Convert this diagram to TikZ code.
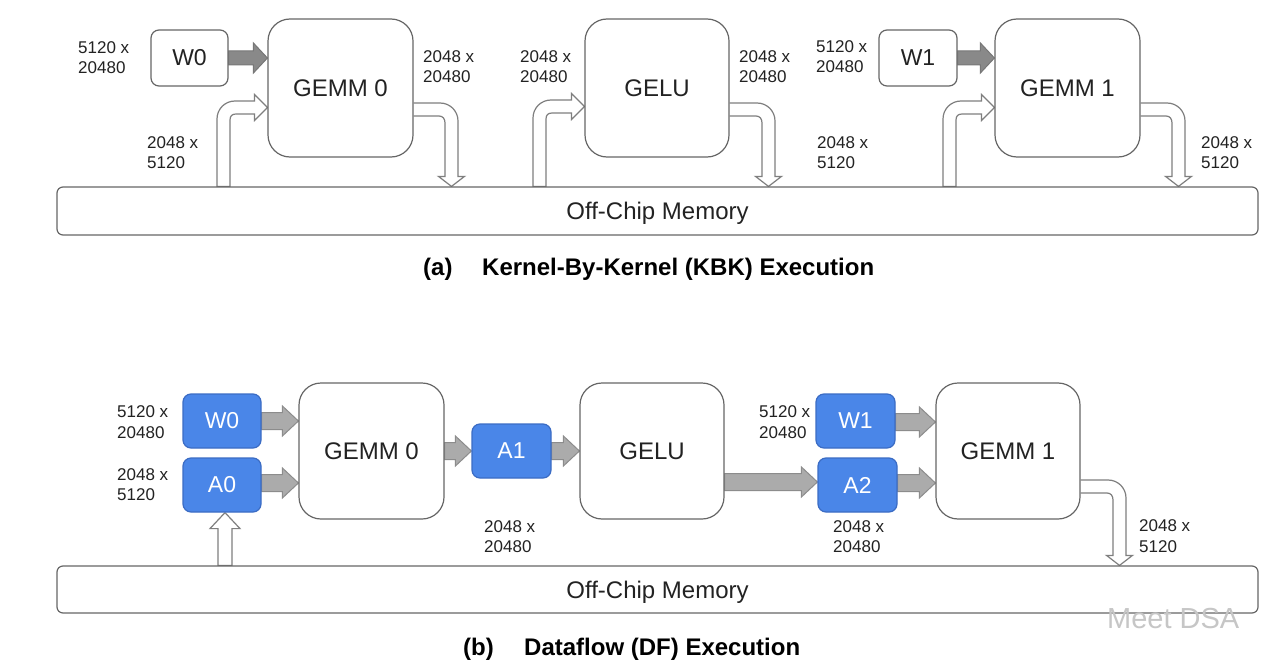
\documentclass[tikz,border=0pt]{standalone}
\usepackage{fontspec}
\setmainfont{Liberation Sans}
\usetikzlibrary{calc}
\pgfdeclarelayer{bg}
\pgfdeclarelayer{paper}
\pgfsetlayers{paper,bg,main}
\definecolor{boxline}{HTML}{666666}
\definecolor{blueA}{HTML}{4A86E8}
\definecolor{blueline}{HTML}{3B6CC4}
\definecolor{garrfill}{HTML}{ABABAB}
\definecolor{garrline}{HTML}{8C8C8C}
\definecolor{darrfill}{HTML}{898989}
\definecolor{darrline}{HTML}{777777}
\definecolor{hollowline}{HTML}{7F7F7F}
\definecolor{txt}{HTML}{222222}
\tikzset{
 bigbox/.style={draw=boxline, line width=1.2pt, rounded corners=22pt, fill=white,
   minimum width=145pt, minimum height=138pt, inner sep=0pt,
   font=\fontsize{24}{28}\selectfont, text=txt},
 smallbox/.style={draw=boxline, line width=1.2pt, rounded corners=8pt, fill=white,
   minimum width=77pt, minimum height=56pt, inner sep=0pt,
   font=\fontsize{23}{27}\selectfont, text=txt},
 bluebox/.style={draw=blueline, fill=blueA, line width=1.2pt, rounded corners=8pt,
   minimum width=78pt, minimum height=54pt, inner sep=0pt,
   font=\fontsize{23}{27}\selectfont, text=white},
 membox/.style={draw=boxline, line width=1.2pt, rounded corners=6pt, fill=white,
   minimum width=1201pt, inner sep=0pt, text depth=0pt,
   font=\fontsize{24}{28}\selectfont, text=txt},
 dimlbl/.style={anchor=base west, inner sep=0pt, font=\fontsize{17}{20}\selectfont, text=txt},
 captxt/.style={anchor=base west, inner sep=0pt, font=\bfseries\fontsize{24}{28}\selectfont, text=black},
 hollow/.style={draw=hollowline, line width=1.2pt, fill=white, line join=miter},
 garr/.style={draw=garrline, fill=garrfill, line width=1pt},
 darr/.style={draw=darrline, fill=darrfill, line width=1pt},
}
% horizontal block arrow: style, from node, to node, y, shaft half height, head length
\newcommand\blockarrow[6]{%
 \draw[#1] let \p1=(#2.east), \p2=(#3.west), \p3=(0,#4) in
  (\x1,\y3+#5pt) -- (\x2-#6pt,\y3+#5pt) -- (\x2-#6pt,\y3+15pt) -- (\x2,\y3)
  -- (\x2-#6pt,\y3-15pt) -- (\x2-#6pt,\y3-#5pt) -- (\x1,\y3-#5pt) -- cycle;}
% hollow bent arrow from memory up, then right into a node
\newcommand\bentup[4]{%
 \draw[hollow] let \p1=(#1.west), \p2=(#2.north), \p3=(#3,#4) in
  (\x3,\y2) -- (\x3,\y3-18pt) .. controls (\x3,\y3-8pt) and (\x3+8pt,\y3) .. (\x3+18pt,\y3)
  -- (\x1-13pt,\y3) -- (\x1-13pt,\y3+6.5pt) -- (\x1,\y3-6.5pt) -- (\x1-13pt,\y3-19.5pt)
  -- (\x1-13pt,\y3-13pt) -- (\x3+19pt,\y3-13pt) .. controls (\x3+15pt,\y3-13pt) and (\x3+13pt,\y3-15pt) .. (\x3+13pt,\y3-19pt)
  -- (\x3+13pt,\y2) -- cycle;}
% hollow bent arrow out of a node to the right, then down into memory
\newcommand\bentdown[4]{%
 \draw[hollow] let \p1=(#1.east), \p2=(#2.north), \p3=(#3,#4) in
  (\x1,\y3) -- (\x3-5pt,\y3) .. controls (\x3+5pt,\y3) and (\x3+13pt,\y3-8pt) .. (\x3+13pt,\y3-18pt)
  -- (\x3+13pt,\y2+10pt) -- (\x3+19.5pt,\y2+10pt) -- (\x3+6.5pt,\y2) -- (\x3-6.5pt,\y2+10pt)
  -- (\x3,\y2+10pt) -- (\x3,\y3-20pt) .. controls (\x3,\y3-16pt) and (\x3-2pt,\y3-13pt) .. (\x3-6pt,\y3-13pt)
  -- (\x1,\y3-13pt);}
\begin{document}
\begin{tikzpicture}[x=1pt,y=-1pt]
\useasboundingbox (0,0) rectangle (1280,669);
\begin{pgfonlayer}{paper}
\fill[white] (0,0) rectangle (1280,669);
\end{pgfonlayer}

% ---------------- (a) Kernel-By-Kernel ----------------
\node[membox, minimum height=48pt] (mema) at (657.5,211) {Off-Chip Memory};
\node[smallbox] (w0a) at (189.5,58) {W0};
\node[bigbox] (g0a) at (340.5,88) {GEMM 0};
\node[bigbox, minimum width=144pt] (gelua) at (657,88) {GELU};
\node[smallbox, minimum width=78pt] (w1a) at (918,58) {W1};
\node[bigbox] (g1a) at (1067.5,88) {GEMM 1};

\begin{pgfonlayer}{bg}
\blockarrow{darr}{w0a}{g0a}{58}{7}{14}
\blockarrow{darr}{w1a}{g1a}{58}{7}{14}
\bentup{g0a}{mema}{217}{101}
\bentup{gelua}{mema}{533}{100}
\bentup{g1a}{mema}{943}{101}
\bentdown{g0a}{mema}{445}{103}
\bentdown{gelua}{mema}{762}{103}
\bentdown{g1a}{mema}{1172}{103}
\end{pgfonlayer}

\node[dimlbl] (la1) at (78,54) {5120 x};
\node[dimlbl] (la2) at (78,74) {20480};
\node[dimlbl] (la3) at (147,148) {2048 x};
\node[dimlbl] (la4) at (147,168) {5120};
\node[dimlbl] (la5) at (423,63) {2048 x};
\node[dimlbl] (la6) at (423,83) {20480};
\node[dimlbl] (la7) at (520,63) {2048 x};
\node[dimlbl] (la8) at (520,83) {20480};
\node[dimlbl] (la9) at (739,63) {2048 x};
\node[dimlbl] (la10) at (739,83) {20480};
\node[dimlbl] (la11) at (817,148) {2048 x};
\node[dimlbl] (la12) at (817,168) {5120};
\node[dimlbl] (la13) at (816,53) {5120 x};
\node[dimlbl] (la14) at (816,73) {20480};
\node[dimlbl] (la15) at (1201,148) {2048 x};
\node[dimlbl] (la16) at (1201,168) {5120};

\node[captxt] (capa1) at (423,275) {(a)};
\node[captxt] (capa2) at (482,275) {Kernel-By-Kernel (KBK) Execution};

% ---------------- (b) Dataflow ----------------
\node[membox, minimum height=47pt] (memb) at (657.5,589.5) {Off-Chip Memory};
\node[bluebox] (w0b) at (222,421) {W0};
\node[bluebox] (a0b) at (222,485) {A0};
\node[bigbox, minimum height=136pt] (g0b) at (371.5,451) {GEMM 0};
\node[bluebox, minimum width=79pt] (a1b) at (511.5,451) {A1};
\node[bigbox, minimum width=144pt, minimum height=136pt] (gelub) at (652,451) {GELU};
\node[bluebox, minimum width=79pt] (w1b) at (855.5,421) {W1};
\node[bluebox, minimum width=79pt] (a2b) at (857.5,485) {A2};
\node[bigbox, minimum width=144pt, minimum height=136pt] (g1b) at (1008,451) {GEMM 1};

\begin{pgfonlayer}{bg}
\blockarrow{garr}{w0b}{g0b}{421}{8.5}{16}
\blockarrow{garr}{a0b}{g0b}{483}{8.5}{16}
\blockarrow{garr}{g0b}{a1b}{451}{8.5}{16}
\blockarrow{garr}{a1b}{gelub}{451}{8.5}{16}
\blockarrow{garr}{gelub}{a2b}{482}{8.5}{16}
\blockarrow{garr}{w1b}{g1b}{422}{8.5}{16}
\blockarrow{garr}{a2b}{g1b}{483}{8.5}{16}
\bentdown{g1b}{memb}{1113}{480}
\draw[hollow] let \p1=([xshift=3pt]a0b.south), \p2=(memb.north) in
  (\x1-7pt,\y2) -- (\x1-7pt,\y1-16pt) -- (\x1-15pt,\y1-16pt) -- (\x1,\y1)
  -- (\x1+15pt,\y1-16pt) -- (\x1+7pt,\y1-16pt) -- (\x1+7pt,\y2) -- cycle;
\end{pgfonlayer}

\node[dimlbl] (lb1) at (117,417) {5120 x};
\node[dimlbl] (lb2) at (117,438) {20480};
\node[dimlbl] (lb3) at (117,480) {2048 x};
\node[dimlbl] (lb4) at (117,500) {5120};
\node[dimlbl] (lb5) at (484,532) {2048 x};
\node[dimlbl] (lb6) at (484,552) {20480};
\node[dimlbl] (lb7) at (759,417) {5120 x};
\node[dimlbl] (lb8) at (759,438) {20480};
\node[dimlbl] (lb9) at (833,532) {2048 x};
\node[dimlbl] (lb10) at (833,552) {20480};
\node[dimlbl] (lb11) at (1139,531) {2048 x};
\node[dimlbl] (lb12) at (1139,552) {5120};

\node[captxt] (capb1) at (463,655) {(b)};
\node[captxt] (capb2) at (524,655) {Dataflow (DF) Execution};

% watermark
\node[anchor=base west, inner sep=0pt, font=\fontsize{29}{32}\selectfont, text=gray!45] (wm) at (1107,628) {Meet DSA};
\end{tikzpicture}
\end{document}
